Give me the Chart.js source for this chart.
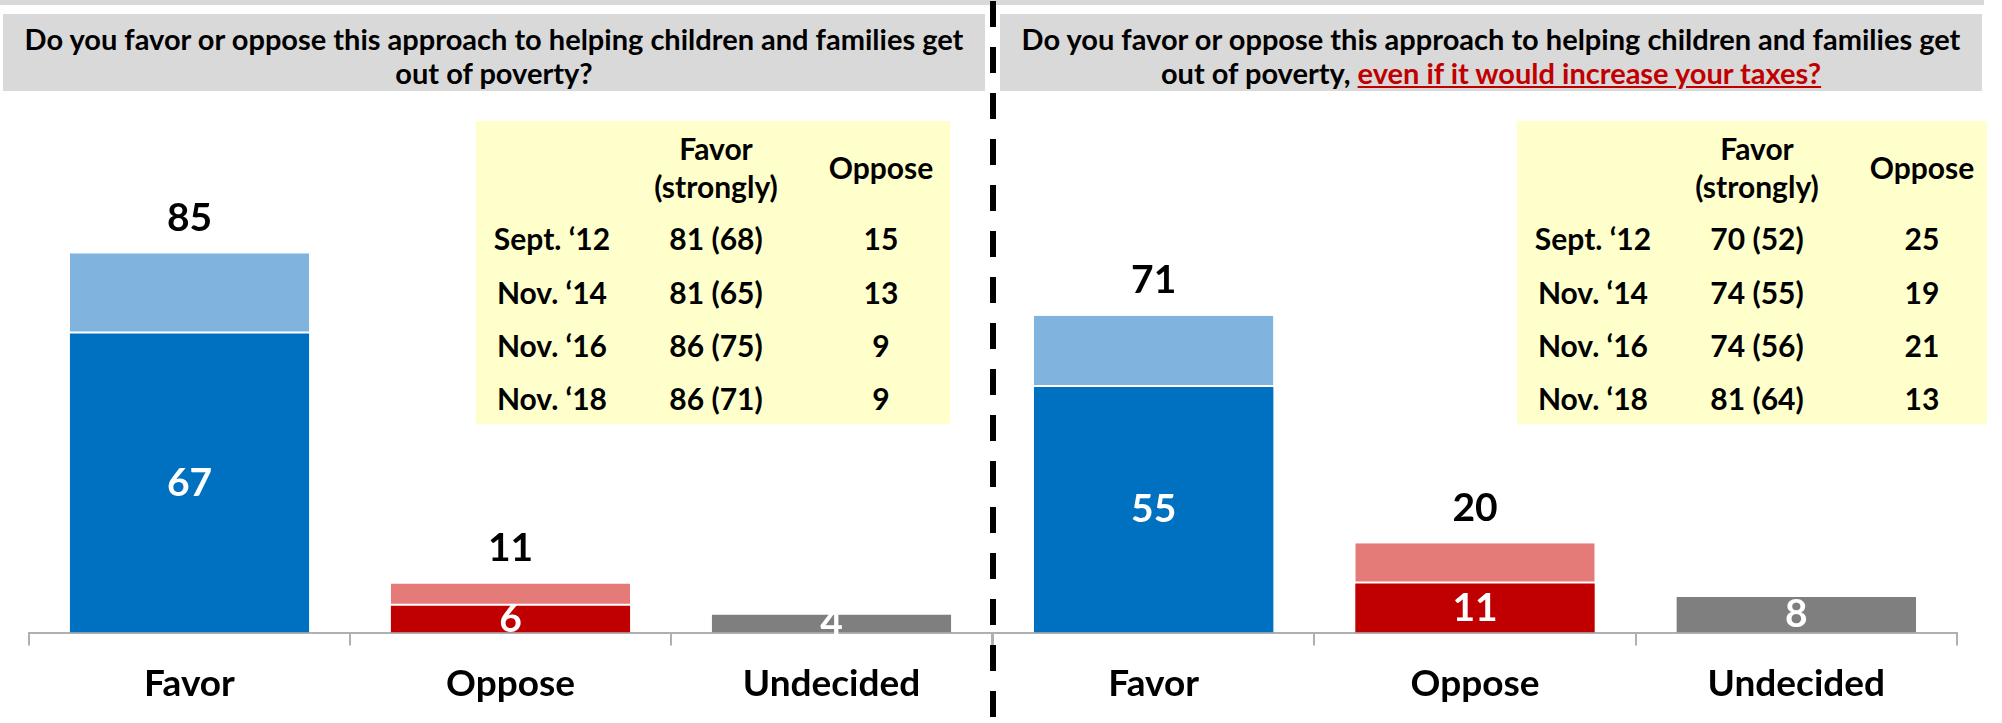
<!DOCTYPE html>
<html>
<head>
<meta charset="utf-8">
<script src="https://cdn.jsdelivr.net/npm/chart.js@4.4.1/dist/chart.umd.min.js"></script>
<style>
  body { margin: 0; width: 2002px; height: 723px; background: #fff; position: relative; overflow: hidden;
         font-family: Lato, "Open Sans", sans-serif; font-weight: 700; color: #000; }
  .strip { position: absolute; left: 0; top: 0; width: 1984px; height: 5px; background: #d9d9d9; }
  .question { position: absolute; top: 14px; height: 69px; padding-top: 8px; width: 982px; background: #d9d9d9;
              text-align: center; font-size: 29px; line-height: 34px; }
  .question .taxes { color: #c00000; text-decoration: underline; }
  .divider { position: absolute; left: 990px; top: 1px; width: 6px; height: 722px; z-index: 5;
             background: repeating-linear-gradient(to bottom, #000 0 26px, transparent 26px 46px); }
  canvas { position: absolute; top: 0; }
  .trend { position: absolute; top: 121px; height: 303px; background: #ffffcc; }
  .cell { position: absolute; transform: translate(-50%, -50%); white-space: nowrap; font-size: 30px; line-height: 1; }
</style>
</head>
<body>
<div class="strip"></div>
<div class="question" style="left:3px">Do you favor or oppose this approach to helping children and families get<br>out of poverty?</div>
<div class="question" style="left:1000px">Do you favor or oppose this approach to helping children and families get<br>out of poverty, <span class="taxes">even if it would increase your taxes?</span></div>

<canvas id="leftChart" width="1000" height="723" style="left:0"></canvas>
<canvas id="rightChart" width="1017" height="723" style="left:985px"></canvas>

<div class="trend" id="leftTrend" style="left:476px; width:474px"></div>
<div class="trend" id="rightTrend" style="left:1517px; width:470px"></div>
<div class="divider"></div>

<script>
// bar values
const categories = ['Favor', 'Oppose', 'Undecided'];
const leftTotal = [85, 11, 4];
const leftStrong = [67, 6, 4];
const rightTotal = [71, 20, 8];
const rightStrong = [55, 11, 8];

// trend tables
const surveyDates = ['Sept. \u201812', 'Nov. \u201814', 'Nov. \u201816', 'Nov. \u201818'];
const leftFavor = [81, 81, 86, 86];
const leftFavorStrong = [68, 65, 75, 71];
const leftOppose = [15, 13, 9, 9];
const rightFavor = [70, 74, 74, 81];
const rightFavorStrong = [52, 55, 56, 64];
const rightOppose = [25, 19, 21, 13];

const strongColors = ['#0070c0', '#c00000', '#7f7f7f'];
const softColors = ['#80b4de', '#e57b78', '#7f7f7f'];

// white numbers inside the strong part, black totals on top
const barLabels = {
  id: 'barLabels',
  afterDatasetsDraw(chart, args, opts) {
    const ctx = chart.ctx;
    const strongMeta = chart.getDatasetMeta(0);
    const softMeta = chart.getDatasetMeta(1);
    ctx.save();
    ctx.font = 'bold 39px Lato';
    ctx.textAlign = 'center';
    ctx.textBaseline = 'middle';
    opts.totals.forEach((total, i) => {
      const bar = strongMeta.data[i];
      ctx.fillStyle = '#fff';
      ctx.fillText(opts.strong[i], bar.x, (bar.y + bar.base) / 2);
      if (total > opts.strong[i]) {
        ctx.fillStyle = '#000';
        ctx.fillText(total, bar.x, softMeta.data[i].y - 35);
      }
    });
    ctx.restore();
  }
};

function drawChart(id, totals, strong, pad) {
  new Chart(document.getElementById(id), {
    type: 'bar',
    data: {
      labels: categories,
      datasets: [
        { label: 'Strongly', data: strong, backgroundColor: strongColors, borderWidth: 0 },
        { label: 'Somewhat', data: totals.map((t, i) => t - strong[i]), backgroundColor: softColors,
          borderColor: '#fff', borderWidth: { top: 0, left: 0, right: 0, bottom: 2 }, borderSkipped: false }
      ]
    },
    options: {
      responsive: false,
      animation: false,
      devicePixelRatio: 1,
      layout: { padding: pad },
      datasets: { bar: { categoryPercentage: 1, barPercentage: 0.745 } },
      plugins: {
        legend: { display: false },
        tooltip: { enabled: false },
        barLabels: { totals: totals, strong: strong }
      },
      scales: {
        x: {
          stacked: true,
          grid: { drawOnChartArea: false, tickLength: 13, color: '#b0b0b0', lineWidth: 2 },
          border: { color: '#b0b0b0', width: 2 },
          ticks: { color: '#000', padding: 16, font: { family: 'Lato', size: 37, weight: 'bold' } }
        },
        y: { stacked: true, display: false, min: 0, max: 120 }
      }
    },
    plugins: [barLabels]
  });
}

drawChart('leftChart', leftTotal, leftStrong, { left: 29, right: 8, top: 97, bottom: 1 });
drawChart('rightChart', rightTotal, rightStrong, { left: 8, right: 45, top: 97, bottom: 1 });

// yellow trend boxes
function fillTrend(id, favor, favorStrong, oppose) {
  const box = document.getElementById(id);
  const cols = [76, 240, 405];
  const rows = [117, 171, 224, 277];
  const put = (text, x, y) => {
    const d = document.createElement('div');
    d.className = 'cell';
    d.style.left = x + 'px';
    d.style.top = y + 'px';
    d.textContent = text;
    box.appendChild(d);
  };
  put('Favor', cols[1], 27);
  put('(strongly)', cols[1], 65);
  put('Oppose', cols[2], 46);
  surveyDates.forEach((date, i) => {
    put(date, cols[0], rows[i]);
    put(favor[i] + ' (' + favorStrong[i] + ')', cols[1], rows[i]);
    put(oppose[i], cols[2], rows[i]);
  });
}
fillTrend('leftTrend', leftFavor, leftFavorStrong, leftOppose);
fillTrend('rightTrend', rightFavor, rightFavorStrong, rightOppose);
</script>
</body>
</html>
